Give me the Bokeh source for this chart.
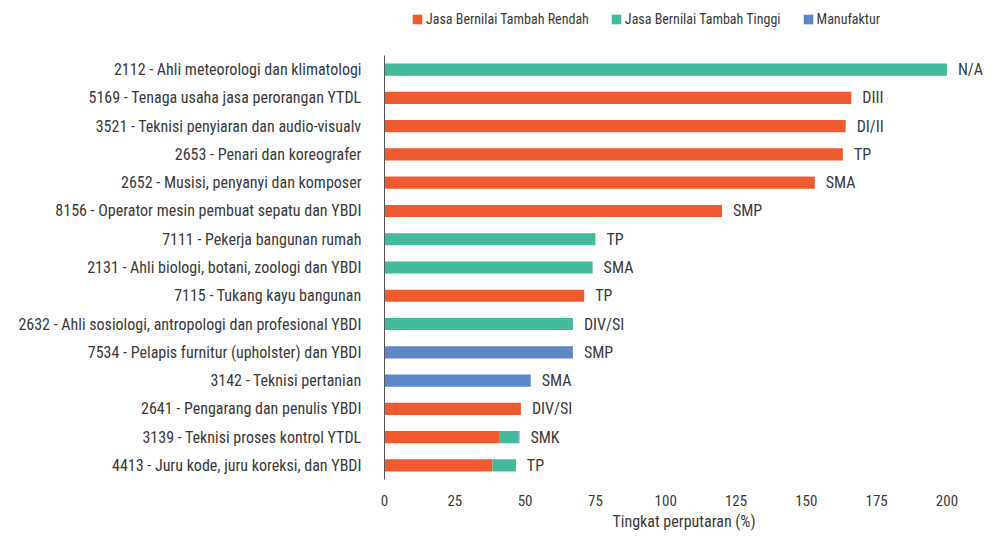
from bokeh.plotting import figure
from bokeh.layouts import column
from bokeh.models import Range1d, FactorRange, FixedTicker, Legend, LegendItem, ColumnDataSource
from bokeh.core.properties import value
from bokeh.embed import file_html
from bokeh.resources import INLINE

occupations = [
    "2112 - Ahli meteorologi dan klimatologi",
    "5169 - Tenaga usaha jasa perorangan YTDL",
    "3521 - Teknisi penyiaran dan audio-visualv",
    "2653 - Penari dan koreografer",
    "2652 - Musisi, penyanyi dan komposer",
    "8156 - Operator mesin pembuat sepatu dan YBDI",
    "7111 - Pekerja bangunan rumah",
    "2131 - Ahli biologi, botani, zoologi dan YBDI",
    "7115 - Tukang kayu bangunan",
    "2632 - Ahli sosiologi, antropologi dan profesional YBDI",
    "7534 - Pelapis furnitur (upholster) dan YBDI",
    "3142 - Teknisi pertanian",
    "2641 - Pengarang dan penulis YBDI",
    "3139 - Teknisi proses kontrol YTDL",
    "4413 - Juru kode, juru koreksi, dan YBDI",
]
rendah = [0, 166, 164, 163, 153, 120, 0, 0, 71, 0, 0, 0, 48.5, 41, 38.4]
tinggi = [200, 0, 0, 0, 0, 0, 75, 74, 0, 67, 0, 0, 0, 6.6, 8]
manufaktur = [0, 0, 0, 0, 0, 0, 0, 0, 0, 0, 67, 52, 0, 0.4, 0.3]
education = ["N/A", "DIII", "DI/II", "TP", "SMA", "SMP", "TP", "SMA", "TP",
             "DIV/SI", "SMP", "SMA", "DIV/SI", "SMK", "TP"]
x_ticks = [0, 25, 50, 75, 100, 125, 150, 175, 200]
series_names = ["Jasa Bernilai Tambah Rendah", "Jasa Bernilai Tambah Tinggi", "Manufaktur"]
colors = ["#EF5B2E", "#44B99B", "#5E87C6"]

FONT = "Roboto Condensed, Open Sans"
TXT = "#3a3a3a"
W = 983
LEG_H = 40
LEFT = 384
nan = float("nan")

totals = [a + b + c for a, b, c in zip(rendah, tinggi, manufaktur)]
src = ColumnDataSource(dict(occ=occupations, rendah=rendah, tinggi=tinggi,
                            manufaktur=manufaktur, total=totals, edu=education))

# ---- legend strip ----
pl = figure(width=W, height=LEG_H, output_backend="svg", toolbar_location=None,
            x_range=Range1d(0, 1), y_range=Range1d(0, 1))
pl.min_border_left = LEFT
pl.min_border_right = 0
pl.min_border_top = 0
pl.min_border_bottom = 0
pl.xaxis.visible = False
pl.yaxis.visible = False
pl.grid.visible = False
pl.outline_line_color = None
leg_renderers = [pl.quad(left=[nan], right=[nan], top=[nan], bottom=[nan],
                         fill_color=c, line_color=None) for c in colors]
lg = Legend(items=[LegendItem(label=n, renderers=[r]) for n, r in zip(series_names, leg_renderers)],
            orientation="horizontal", location=(27, 13), spacing=21,
            padding=0, margin=0, border_line_color=None, background_fill_alpha=0,
            glyph_width=12, glyph_height=12, label_standoff=3, label_height=14,
            label_text_font=FONT, label_text_font_size="14px", label_text_color=TXT,
            label_text_baseline="middle")
pl.add_layout(lg, "center")

# ---- main chart ----
p = figure(width=W, height=533 - LEG_H, output_backend="svg", toolbar_location=None,
           y_range=FactorRange(factors=list(reversed(occupations)), range_padding=0),
           x_range=Range1d(0, 213))
p.min_border_left = LEFT
p.min_border_right = 0
p.min_border_top = 55 - LEG_H
p.min_border_bottom = 50
p.outline_line_color = None
p.grid.visible = False

rs = p.hbar_stack(["rendah", "tinggi", "manufaktur"], y="occ", height=0.43,
                  color=colors, line_color=None, source=src)

p.text(x="total", y="occ", text="edu", source=src, x_offset=11,
       text_baseline="middle", text_align="left", text_font=value(FONT),
       text_font_size="16px", text_color=TXT)

p.xaxis.ticker = FixedTicker(ticks=x_ticks)
p.xaxis.axis_line_color = None
p.xaxis.major_tick_line_color = None
p.xaxis.minor_tick_line_color = None
p.xaxis.major_label_standoff = 9
p.xaxis.major_label_text_font = FONT
p.xaxis.major_label_text_font_size = "15px"
p.xaxis.major_label_text_color = TXT
p.xaxis.axis_label = "Tingkat perputaran (%)"
p.xaxis.axis_label_text_font = FONT
p.xaxis.axis_label_text_font_size = "16px"
p.xaxis.axis_label_text_font_style = "normal"
p.xaxis.axis_label_text_color = TXT
p.xaxis.axis_label_standoff = 3

p.yaxis.axis_line_color = "#555555"
p.yaxis.axis_line_width = 1
p.yaxis.major_tick_line_color = None
p.yaxis.minor_tick_line_color = None
p.yaxis.major_label_standoff = 17
p.yaxis.major_label_text_font = FONT
p.yaxis.major_label_text_font_size = "16px"
p.yaxis.major_label_text_color = TXT

layout = column(pl, p, spacing=0)
open("out.html", "w").write(file_html(layout, INLINE))
